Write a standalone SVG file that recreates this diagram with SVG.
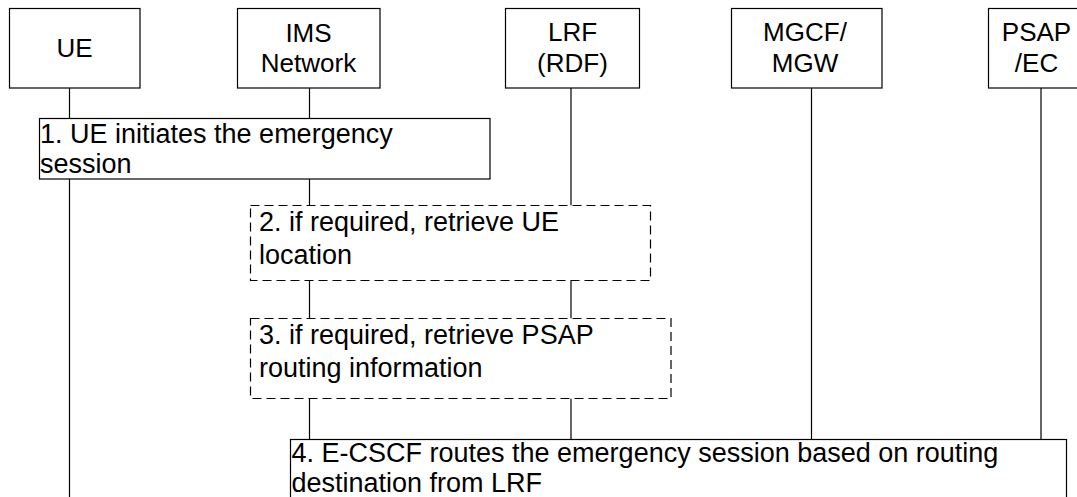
<svg xmlns="http://www.w3.org/2000/svg" width="1077" height="497" viewBox="0 0 1077 497">
<style>
.bg{fill:#fff}
.box{fill:#fff;stroke:#000;stroke-width:1.2}
.dash{fill:#fff;stroke:#000;stroke-width:1.2;stroke-dasharray:9 5}
.life{stroke:#000;stroke-width:1.2;fill:none}
.h{font-family:"Liberation Sans",Arial,sans-serif;font-size:26px;fill:#000;text-anchor:middle}
.t{font-family:"Liberation Sans",Arial,sans-serif;font-size:27px;fill:#000}
</style>
<rect class="bg" x="0" y="0" width="1077" height="497"/>
<g id="connectors">
<line class="life" x1="69.5" y1="88" x2="69.5" y2="118.5"/>
<line class="life" x1="69.5" y1="179" x2="69.5" y2="497"/>
<line class="life" x1="309.5" y1="88" x2="309.5" y2="118.5"/>
<line class="life" x1="309.5" y1="179" x2="309.5" y2="205.5"/>
<line class="life" x1="309.5" y1="280.5" x2="309.5" y2="318.5"/>
<line class="life" x1="309.5" y1="398.5" x2="309.5" y2="439.5"/>
<line class="life" x1="571" y1="88" x2="571" y2="205.5"/>
<line class="life" x1="571" y1="280.5" x2="571" y2="318.5"/>
<line class="life" x1="571" y1="398.5" x2="571" y2="439.5"/>
<line class="life" x1="811.5" y1="88" x2="811.5" y2="439.5"/>
<line class="life" x1="1041" y1="88" x2="1041" y2="439.5"/>
</g>
<g id="ue">
<rect class="box" x="9.5" y="8.5" width="130.5" height="79.5"/>
<text class="h" x="74.5" y="57">UE</text>
</g>
<g id="ims">
<rect class="box" x="237.5" y="8.5" width="142.5" height="79.5"/>
<text class="h" x="308.5" y="42">IMS</text>
<text class="h" x="308.5" y="72">Network</text>
</g>
<g id="lrf">
<rect class="box" x="505.5" y="8.5" width="134" height="79.5"/>
<text class="h" x="572.5" y="41">LRF</text>
<text class="h" x="572.5" y="72">(RDF)</text>
</g>
<g id="mgcf">
<rect class="box" x="731.5" y="8.5" width="150.5" height="79.5"/>
<text class="h" x="805" y="41">MGCF/</text>
<text class="h" x="805" y="72">MGW</text>
</g>
<g id="psap">
<rect class="box" x="988.5" y="8.5" width="100" height="79.5"/>
<text class="h" x="1036.5" y="41">PSAP</text>
<text class="h" x="1036.5" y="72">/EC</text>
</g>
<g id="step1">
<rect class="box" x="39.5" y="118.5" width="450.5" height="60.5"/>
<text class="t" x="40" y="143">1. UE initiates the emergency</text>
<text class="t" x="40" y="173">session</text>
</g>
<g id="step2">
<rect class="dash" x="250.5" y="205.5" width="400" height="75"/>
<text class="t" x="259" y="231">2. if required, retrieve UE</text>
<text class="t" x="259" y="264">location</text>
</g>
<g id="step3">
<rect class="dash" x="250.5" y="318.5" width="420.5" height="80"/>
<text class="t" x="259" y="344">3. if required, retrieve PSAP</text>
<text class="t" x="259" y="377">routing information</text>
</g>
<g id="step4">
<rect class="box" x="290.5" y="439.5" width="776" height="70"/>
<text class="t" x="291.5" y="462">4. E-CSCF routes the emergency session based on routing</text>
<text class="t" x="291.5" y="492">destination from LRF</text>
</g>
</svg>
